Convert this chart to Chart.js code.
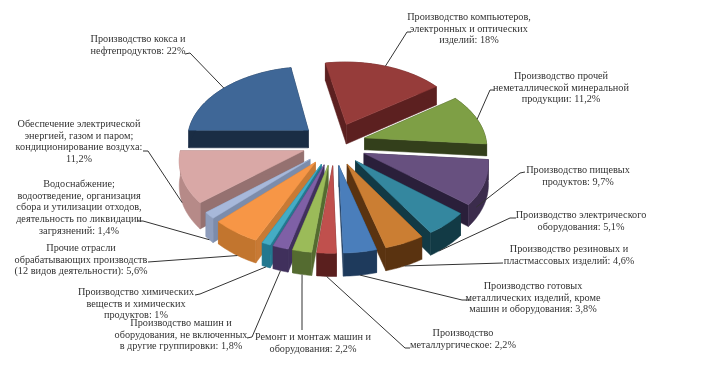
<!DOCTYPE html>
<html lang="ru">
<head>
<meta charset="utf-8">
<title>Структура обрабатывающих производств</title>
<script src="https://cdn.jsdelivr.net/npm/chart.js@4"></script>
<style>
    html, body { margin: 0; padding: 0; background: #fff; }
    canvas { display: block; filter: blur(0.35px); }
</style>
</head>
<body>
<canvas id="pie-chart" width="714" height="373"></canvas>
<script>
// Data, clockwise from the dark red slice
const categories = [
    'Производство компьютеров, электронных и оптических изделий',
    'Производство прочей неметаллической минеральной продукции',
    'Производство пищевых продуктов',
    'Производство электрического оборудования',
    'Производство резиновых и пластмассовых изделий',
    'Производство готовых металлических изделий, кроме машин и оборудования',
    'Производство металлургическое',
    'Ремонт и монтаж машин и оборудования',
    'Производство машин и оборудования, не включенных в другие группировки',
    'Производство химических веществ и химических продуктов',
    'Прочие отрасли обрабатывающих производств (12 видов деятельности)',
    'Водоснабжение; водоотведение, организация сбора и утилизации отходов, деятельность по ликвидации загрязнений',
    'Обеспечение электрической энергией, газом и паром; кондиционирование воздуха',
    'Производство кокса и нефтепродуктов'
];
const values = [18, 11.2, 9.7, 5.1, 4.6, 3.8, 2.2, 2.2, 1.8, 1, 5.6, 1.4, 11.2, 22];
const labelLines = [
    ['Производство компьютеров,', 'электронных и оптических', 'изделий: 18%'],
    ['Производство прочей', 'неметаллической минеральной', 'продукции: 11,2%'],
    ['Производство пищевых', 'продуктов: 9,7%'],
    ['Производство электрического', 'оборудования: 5,1%'],
    ['Производство резиновых и', 'пластмассовых изделий: 4,6%'],
    ['Производство готовых', 'металлических изделий, кроме', 'машин и оборудования: 3,8%'],
    ['Производство', 'металлургическое: 2,2%'],
    ['Ремонт и монтаж машин и', 'оборудования: 2,2%'],
    ['Производство машин и', 'оборудования, не включенных', 'в другие группировки: 1,8%'],
    ['Производство химических', 'веществ и химических', 'продуктов: 1%'],
    ['Прочие отрасли', 'обрабатывающих производств', '(12 видов деятельности): 5,6%'],
    ['Водоснабжение;', 'водоотведение, организация', 'сбора и утилизации отходов,', 'деятельность по ликвидации', 'загрязнений: 1,4%'],
    ['Обеспечение электрической', 'энергией, газом и паром;', 'кондиционирование воздуха:', '11,2%'],
    ['Производство кокса и', 'нефтепродуктов: 22%']
];

// Styles
const topColors = ['#963c3a', '#7e9f45', '#67507f', '#34879f', '#cb7e33', '#4a7ebb', '#c0504d', '#9bbb59', '#7f60a6', '#45acc4', '#f79646', '#a7b8da', '#d9a8a6', '#3f6797'];
const wallColors = ['#5c2020', '#333f1b', '#2a1f3a', '#123a45', '#5a3310', '#1e3a5c', '#5a1f1e', '#546b30', '#40305c', '#23788f', '#c87a35', '#7c8cab', '#957170', '#1a2d44'];
const rimColors = ['#5c2020', '#333f1b', '#3b2c4c', '#123a45', '#5a3310', '#1e3a5c', '#5a1f1e', '#546b30', '#40305c', '#23788f', '#c2752e', '#8e9dbc', '#b68a88', '#1a2d44'];
const sliceOffsets = [34, 32, 32, 32, 32, 32, 32, 32, 32, 32, 32, 32, 32, 34];
const sliceNudgeY = [-3, -3, 0, 0, 0, 0, 0, 0, 0, 0, 0, 0, -2, -3];
const sliceDepths = [20, 12, 20, 20, 20, 20, 20, 20, 20, 20, 20, 22, 24, 18];

// Label layout: centre x, first line y, leader elbow (x, y), where it meets the slice
const labelX = [469, 561, 578, 581, 569, 533, 463, 313, 181, 136, 81, 79, 79, 138];
const labelY = [17, 76, 170, 215, 249, 286, 333, 337, 323, 292, 248, 184, 124, 39];
const elbowX = [[411, 407], [494, 490], [525, 520], [516, 510], [503, 503], [470, 462], [410, 405], [302, 302], [247, 252], [195, 200], [148, 148], [138, 143], [143, 148], [185, 190]];
const elbowY = [[32, 32], [90, 90], [172, 173], [218, 218], [263, 263], [300, 300], [348, 348], [330, 330], [338, 337], [295, 294], [262, 262], [221, 221], [151, 151], [54, 53]];
const leaderFrac = [0.5, 0.5, 0.8, 0.75, 0.5, 0.5, 0.5, 0.5, 0.5, 0.5, 0.45, 0.5, 0.5, 0.5];
const leaderDrop = [0, 0, 0.5, 1, 1, 1, 1, 1, 1, 1, 1, 1, 1, 0];

const perspective = 0.11;
const flatten = 0.6;
const textSqueeze = 0.945;

// Project a point of the pie plane (radius units) to the screen
function project(arc, i, u, v, drop) {
    const k = 1 / (1 - perspective * v);
    return {
        x: arc.x + arc.outerRadius * u * k,
        y: arc.y + arc.outerRadius * flatten * v * k + sliceNudgeY[i] + drop * sliceDepths[i] * k
    };
}

function slicePoint(arc, i, angle, radius, drop) {
    const mid = (arc.startAngle + arc.endAngle) / 2;
    const shift = sliceOffsets[i] / arc.outerRadius;
    const u = Math.cos(mid) * shift + Math.cos(angle) * radius;
    const v = Math.sin(mid) * shift + Math.sin(angle) * radius;
    return project(arc, i, u, v, drop);
}

function fillPoly(ctx, points, color) {
    ctx.beginPath();
    points.forEach((p, n) => n ? ctx.lineTo(p.x, p.y) : ctx.moveTo(p.x, p.y));
    ctx.closePath();
    ctx.fillStyle = color;
    ctx.strokeStyle = color;
    ctx.lineWidth = 0.5;
    ctx.fill();
    ctx.stroke();
}

function drawSlice(ctx, arc, i) {
    const steps = Math.max(4, Math.ceil((arc.endAngle - arc.startAngle) * 40));
    const top = [];
    const bottom = [];
    for (let s = 0; s <= steps; s++) {
        const a = arc.startAngle + (arc.endAngle - arc.startAngle) * s / steps;
        top.push(slicePoint(arc, i, a, 1, 0));
        bottom.push(slicePoint(arc, i, a, 1, 1));
    }
    const apex = slicePoint(arc, i, 0, 0, 0);
    const apexLow = slicePoint(arc, i, 0, 0, 1);

    // walls first, the top covers whatever faces away
    fillPoly(ctx, [apex, top[0], bottom[0], apexLow], wallColors[i]);
    fillPoly(ctx, [apex, top[steps], bottom[steps], apexLow], wallColors[i]);
    fillPoly(ctx, top.concat(bottom.slice().reverse()), rimColors[i]);
    fillPoly(ctx, [apex].concat(top), topColors[i]);
}

const exploded3d = {
    id: 'exploded3d',
    beforeDatasetDraw(chart, args) {
        const ctx = chart.ctx;
        const arcs = chart.getDatasetMeta(args.index).data;
        const order = arcs.map((a, i) => i).sort((a, b) => {
            const midA = (arcs[a].startAngle + arcs[a].endAngle) / 2;
            const midB = (arcs[b].startAngle + arcs[b].endAngle) / 2;
            return Math.sin(midA) - Math.sin(midB);
        });
        order.forEach(i => drawSlice(ctx, arcs[i], i));
        return false;
    },
    afterDraw(chart) {
        const ctx = chart.ctx;
        const arcs = chart.getDatasetMeta(0).data;
        ctx.save();

        // leader lines
        arcs.forEach((arc, i) => {
            const a = arc.startAngle + (arc.endAngle - arc.startAngle) * leaderFrac[i];
            const end = slicePoint(arc, i, a, 1, leaderDrop[i]);
            ctx.beginPath();
            ctx.moveTo(elbowX[i][0], elbowY[i][0]);
            ctx.lineTo(elbowX[i][1], elbowY[i][1]);
            ctx.lineTo(end.x, end.y);
            ctx.strokeStyle = i === 7 ? '#777' : '#333';
            ctx.lineWidth = i === 7 ? 1.5 : 1;
            ctx.stroke();
        });

        // labels, the reference text is a little narrower than the font
        ctx.font = '10.85px "Liberation Serif"';
        ctx.fillStyle = '#333';
        ctx.textAlign = 'center';
        ctx.textBaseline = 'middle';
        ctx.scale(textSqueeze, 1);
        labelLines.forEach((lines, i) => {
            lines.forEach((line, n) => ctx.fillText(line, labelX[i] / textSqueeze, labelY[i] + n * 11.7));
        });
        ctx.restore();
    }
};

new Chart(document.getElementById('pie-chart'), {
    type: 'pie',
    data: {
        labels: categories,
        datasets: [{
            data: values,
            backgroundColor: topColors,
            offset: sliceOffsets,
            borderWidth: 0
        }]
    },
    options: {
        responsive: false,
        animation: false,
        rotation: -10.6,
        radius: 122,
        layout: { padding: { right: 46, bottom: 81 } },
        plugins: {
            legend: { display: false },
            tooltip: { enabled: false }
        }
    },
    plugins: [exploded3d]
});
</script>
</body>
</html>
